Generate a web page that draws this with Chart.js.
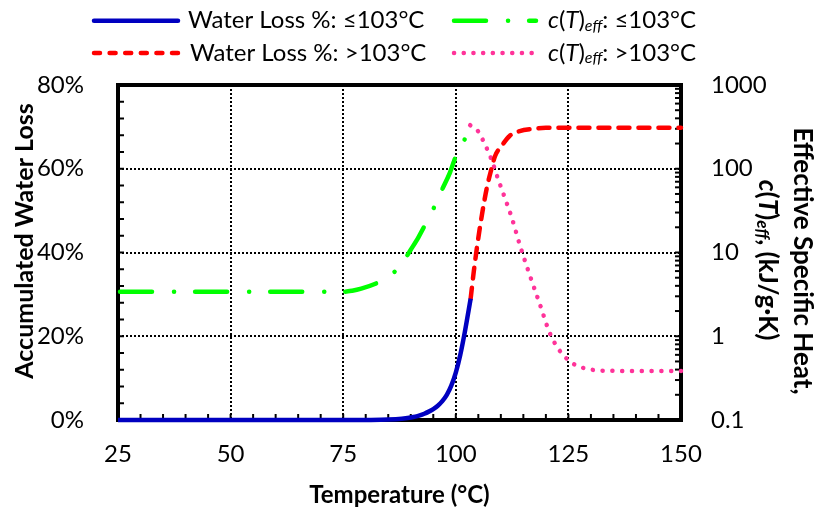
<!DOCTYPE html>
<html>
<head>
<meta charset="utf-8">
<script src="https://cdn.jsdelivr.net/npm/chart.js@4.4.1/dist/chart.umd.min.js"></script>
<style>
  html, body { margin: 0; padding: 0; background: #fff; }
  #wrap { width: 817px; height: 514px; }
</style>
</head>
<body>
<div id="wrap"><canvas id="c" width="817" height="514"></canvas></div>
<script>
// Accumulated water loss (%) vs temperature, up to 103 °C
const lossLowTemps = [25, 50, 75, 80, 85, 88, 90, 91, 92, 93, 94, 95, 96, 97, 98, 99, 100, 101, 102, 103.3];
const lossLowValues = [0, 0, 0, 0.02, 0.1, 0.3, 0.6, 0.8, 1.1, 1.5, 2.0, 2.6, 3.4, 4.5, 6.0, 8.2, 11.3, 15.6, 21, 29];

// Accumulated water loss (%) above 103 °C
const lossHighTemps = [103.3, 104, 104.8, 105.5, 106.2, 106.9, 107.8, 108.7, 110.2, 112, 114.2, 117, 120, 130, 140, 150];
const lossHighValues = [29, 35.5, 42, 47, 51.5, 55.5, 59.5, 63, 65.5, 67.9, 69, 69.5, 69.8, 69.8, 69.8, 69.8];

// Effective specific heat c(T)eff (kJ/g·K), up to 103 °C
const heatLowTemps = [25, 50, 75, 77, 79, 82, 84, 86, 88.7, 90, 91.7, 93.5, 95, 96.9, 98.7, 100.2, 102, 103.2];
const heatLowValues = [3.4, 3.4, 3.4, 3.5, 3.7, 4.2, 4.8, 5.6, 8.4, 10.8, 15.2, 23, 33, 55.7, 90, 150, 226, 320];

// Effective specific heat c(T)eff (kJ/g·K), above 103 °C
const heatHighTemps = [103.2, 105, 106.1, 107.9, 109.4, 110.9, 112.4, 114.3, 116.5, 118.7, 120.9, 123.1, 124.6, 126.6, 128.7, 130.9, 135, 140, 150];
const heatHighValues = [331, 278, 215, 130, 75, 44.8, 26.3, 11.9, 5.22, 2.38, 1.08, 0.668, 0.542, 0.452, 0.413, 0.394, 0.386, 0.385, 0.385];

// Axis ticks
const tempTicks = [25, 50, 75, 100, 125, 150];
const lossTicks = [0, 20, 40, 60, 80];
const heatTicks = [0.1, 1, 10, 100, 1000];

const FONT = 'Lato, "Open Sans", sans-serif';
Chart.defaults.font.family = FONT;
Chart.defaults.color = '#000';

function pts(xs, ys) { return xs.map((t, i) => ({ x: t, y: ys[i] })); }

// Draws a run of differently styled text pieces: [text, font, dy]
function richText(ctx, parts, x, y, align) {
  let w = 0;
  parts.forEach(p => { ctx.font = p[1]; w += ctx.measureText(p[0]).width; });
  let cx = align === 'center' ? x - w / 2 : x;
  parts.forEach(p => {
    ctx.font = p[1];
    ctx.fillText(p[0], cx, y + (p[2] || 0));
    cx += ctx.measureText(p[0]).width;
  });
}

function seg(ctx, x1, y1, x2, y2) {
  ctx.beginPath(); ctx.moveTo(x1, y1); ctx.lineTo(x2, y2); ctx.stroke();
}

// Dotted grid, inner tick marks and the plot frame
const framePlugin = {
  id: 'frame',
  beforeDatasetsDraw(chart) {
    const { ctx, chartArea: a, scales: { x, y, y1 } } = chart;
    ctx.save();
    ctx.strokeStyle = '#000';
    ctx.lineWidth = 2;
    ctx.setLineDash([2, 2]);
    tempTicks.slice(1, -1).forEach(v => {
      const px = Math.round(x.getPixelForValue(v));
      seg(ctx, px, a.top, px, a.bottom);
    });
    lossTicks.slice(1, -1).forEach(v => {
      const py = Math.round(y.getPixelForValue(v));
      seg(ctx, a.left, py, a.right, py);
    });
    ctx.setLineDash([]);
    ctx.lineWidth = 2;
    for (let t = 30; t < 150; t += 5) {
      const px = x.getPixelForValue(t);
      seg(ctx, px, a.bottom, px, a.bottom - 6);
    }
    for (let p = 4; p < 80; p += 4) {
      const py = y.getPixelForValue(p);
      seg(ctx, a.left, py, a.left + 6, py);
    }
    heatTicks.slice(0, -1).forEach(d => {
      for (let m = 1; m <= 9; m++) {
        if (d === 0.1 && m === 1) continue;
        const py = y1.getPixelForValue(d * m);
        seg(ctx, a.right, py, a.right - 6, py);
      }
    });
    ctx.lineWidth = 4;
    ctx.strokeRect(a.left, a.top, a.right - a.left, a.bottom - a.top);
    ctx.restore();
  },
  afterDraw(chart) {
    const { ctx, chartArea: a } = chart;
    ctx.save();
    ctx.fillStyle = '#000';
    ctx.textBaseline = 'middle';
    const reg = '24px ' + FONT, it = 'italic 24px ' + FONT, sub = 'italic 16px ' + FONT;
    const bold = 'bold 24px ' + FONT;
    const boldL = 'bold 25px ' + FONT, boldR = 'bold 26px ' + FONT;
    const boldItR = 'italic bold 26px ' + FONT, boldSubR = 'italic bold 17px ' + FONT;

    // Legend
    const rows = [20.7, 53];
    const leftSample = [92, 180], rightSample = [452, 538];
    const samples = [
      { color: '#0000C0', dash: [], w: 4.5, xs: leftSample, row: 0 },
      { color: '#00FF00', dash: [32, 22, 0.1, 21], w: 4.5, xs: rightSample, row: 0 },
      { color: '#FF0000', dash: [6, 9.6], w: 4.5, xs: leftSample, row: 1 },
      { color: '#FF3399', dash: [0.1, 9.6], w: 4.5, xs: rightSample, row: 1 }
    ];
    ctx.lineCap = 'round';
    samples.forEach(s => {
      ctx.strokeStyle = s.color;
      ctx.lineWidth = s.w;
      ctx.setLineDash(s.dash);
      const yy = rows[s.row];
      seg(ctx, s.xs[0] + 2, yy, s.xs[1] - 2, yy);
    });
    ctx.setLineDash([]);
    richText(ctx, [['Water Loss %: \u2264103\u00B0C', reg]], 188, rows[0]);
    richText(ctx, [['Water Loss %: >103\u00B0C', reg]], 190, rows[1]);
    const cLabel = (tail) => [['c', it], ['(', reg], ['T', it], [')', reg], ['eff', sub, 5], [tail, reg]];
    richText(ctx, cLabel(': \u2264103\u00B0C'), 548, rows[0]);
    richText(ctx, cLabel(': >103\u00B0C'), 548, rows[1]);

    // Axis titles
    richText(ctx, [['Temperature (\u00B0C)', bold]], (a.left + a.right) / 2, 495, 'center');
    ctx.save();
    ctx.translate(25, 241);
    ctx.rotate(-Math.PI / 2);
    richText(ctx, [['Accumulated Water Loss', boldL]], 0, 0, 'center');
    ctx.restore();
    ctx.save();
    ctx.translate(802, 261);
    ctx.rotate(Math.PI / 2);
    richText(ctx, [['Effective Specific Heat,', boldR]], 0, 0, 'center');
    ctx.restore();
    ctx.save();
    ctx.translate(767, 260);
    ctx.rotate(Math.PI / 2);
    richText(ctx, [['c', boldItR], ['(', boldR], ['T', boldItR], [')', boldR], ['eff', boldSubR, 5], [', (kJ/g\u00B7K)', boldR]], 0, 0, 'center');
    ctx.restore();
    ctx.restore();
  }
};

const common = { pointRadius: 0, pointHoverRadius: 0, fill: false, clip: false, cubicInterpolationMode: 'monotone' };

new Chart(document.getElementById('c'), {
  type: 'line',
  data: {
    datasets: [
      Object.assign({ label: 'Water Loss %: \u2264103\u00B0C', data: pts(lossLowTemps, lossLowValues), yAxisID: 'y',
        borderColor: '#0000C0', borderWidth: 4.5 }, common),
      Object.assign({ label: 'Water Loss %: >103\u00B0C', data: pts(lossHighTemps, lossHighValues), yAxisID: 'y',
        borderColor: '#FF0000', borderWidth: 4.5, borderDash: [11, 9], borderCapStyle: 'round' }, common),
      Object.assign({ label: 'c(T)eff: \u2264103\u00B0C', data: pts(heatLowTemps, heatLowValues), yAxisID: 'y1',
        borderColor: '#00FF00', borderWidth: 4.5, borderDash: [32, 22, 0.1, 21], borderCapStyle: 'round', borderDashOffset: -2 }, common),
      Object.assign({ label: 'c(T)eff: >103\u00B0C', data: pts(heatHighTemps, heatHighValues), yAxisID: 'y1',
        borderColor: '#FF3399', borderWidth: 4.5, borderDash: [0.1, 9.7], borderCapStyle: 'round' }, common)
    ]
  },
  options: {
    responsive: false,
    animation: false,
    events: [],
    layout: { padding: { top: 85, left: 0, right: 0, bottom: 0 } },
    plugins: { legend: { display: false }, tooltip: { enabled: false } },
    scales: {
      x: {
        type: 'linear', min: 25, max: 150,
        afterBuildTicks: s => { s.ticks = tempTicks.map(v => ({ value: v })); },
        ticks: { font: { size: 24 }, padding: 12, maxRotation: 0, color: '#000' },
        grid: { display: false }, border: { display: false },
        afterFit: s => { s.height = 94; }
      },
      y: {
        type: 'linear', position: 'left', min: 0, max: 80,
        afterBuildTicks: s => { s.ticks = lossTicks.map(v => ({ value: v })); },
        ticks: { font: { size: 24 }, padding: 26, color: '#000', callback: v => v + '%' },
        grid: { display: false }, border: { display: false },
        afterFit: s => { s.width = 118; }
      },
      y1: {
        type: 'logarithmic', position: 'right', min: 0.1, max: 1000,
        afterBuildTicks: s => { s.ticks = heatTicks.map(v => ({ value: v })); },
        ticks: { font: { size: 24 }, padding: 22, color: '#000', callback: v => String(v) },
        grid: { display: false }, border: { display: false },
        afterFit: s => { s.width = 136; }
      }
    }
  },
  plugins: [framePlugin]
});
</script>
</body>
</html>
